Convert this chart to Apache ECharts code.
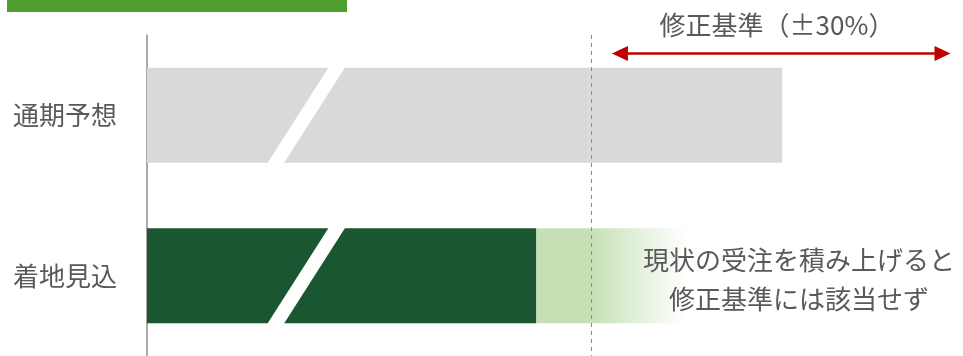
<!DOCTYPE html>
<html>
<head>
<meta charset="utf-8">
<script src="https://cdn.jsdelivr.net/npm/echarts@6/dist/echarts.min.js"></script>
<style>
  html, body { margin: 0; padding: 0; background: #ffffff; }
  #chart { width: 963px; height: 356px; }
</style>
</head>
<body>
<div id="chart"></div>
<script>
// Categories (top to bottom)
const categories = ['通期予想', '着地見込'];

// Full-year forecast (index = 100)
const forecastValues = [100, '-'];
// Expected landing: confirmed part and accumulated order backlog on top of it
const landingValues = ['-', 61.3];
const backlogValues = ['-', 28];

// Revision threshold (-30% of the forecast)
const thresholdValue = 70;
// Span of the "±30%" arrow
const rangeArrow = [73.2, 126.5];
// Axis-break band: centre at bar bottom, centre at bar top, band width
const breakBand = [20.2, 29.95, 2.6];

// Text
const rangeLabel = '修正基準（±30%）';
const noteLines = ['現状の受注を積み上げると', '修正基準には該当せず'];

const FONT = '"Noto Sans CJK JP", "Noto Sans", sans-serif';
const TEXT_COLOR = '#595959';
const BAR_WIDTH = 95;

const chart = echarts.init(document.getElementById('chart'), null, { renderer: 'canvas' });

const option = {
  animation: false,
  backgroundColor: '#ffffff',
  grid: { left: 147, right: 22, top: 35, height: 336, containLabel: false },
  xAxis: {
    type: 'value',
    min: 0,
    max: 125,
    show: false,
    splitLine: { show: false }
  },
  yAxis: {
    type: 'category',
    inverse: true,
    data: categories,
    axisLine: { show: true, lineStyle: { color: '#8c8c8c', width: 1.5 } },
    axisTick: { show: false },
    axisLabel: { fontSize: 26, color: TEXT_COLOR, fontFamily: FONT, margin: 30 }
  },
  graphic: [
    {
      type: 'rect',
      shape: { x: 7, y: 0, width: 340, height: 12 },
      style: { fill: '#4e9e2e' },
      z: 10
    },
    {
      type: 'text',
      x: 777, y: 25,
      style: {
        text: rangeLabel,
        fontSize: 26, fontFamily: FONT, fill: TEXT_COLOR,
        textAlign: 'center', textVerticalAlign: 'middle'
      },
      z: 10
    },
    {
      type: 'text',
      x: 799, y: 280,
      style: {
        text: noteLines.join('\n'),
        fontSize: 26, lineHeight: 39, fontFamily: FONT, fill: TEXT_COLOR,
        textAlign: 'center', textVerticalAlign: 'middle'
      },
      z: 10
    }
  ],
  series: [
    {
      name: '通期予想',
      type: 'bar',
      stack: 'total',
      barWidth: BAR_WIDTH,
      data: forecastValues,
      itemStyle: { color: '#d9d9d9' },
      markLine: {
        silent: true,
        symbol: 'none',
        label: { show: false },
        lineStyle: { color: '#8c8c8c', width: 1, type: [4, 4] },
        data: [{ xAxis: thresholdValue }],
        z: 5
      }
    },
    {
      name: '着地見込',
      type: 'bar',
      stack: 'total',
      barWidth: BAR_WIDTH,
      data: landingValues,
      itemStyle: { color: '#1b5632' }
    },
    {
      name: '受注積上げ',
      type: 'bar',
      stack: 'total',
      barWidth: BAR_WIDTH,
      data: backlogValues,
      itemStyle: {
        color: new echarts.graphic.LinearGradient(0, 0, 1, 0, [
          { offset: 0, color: '#c5e0b4' },
          { offset: 0.3, color: '#c5e0b4' },
          { offset: 0.85, color: 'rgba(255,255,255,0.9)' },
          { offset: 1, color: 'rgba(255,255,255,0)' }
        ])
      }
    },
    {
      // White slanted band marking the omitted part of the scale
      name: 'break',
      type: 'custom',
      silent: true,
      z: 4,
      data: categories.map((c, i) => [i]),
      encode: { y: 0 },
      renderItem: function (params, api) {
        const cat = api.value(0);
        const half = breakBand[2] / 2;
        const bl = api.coord([breakBand[0] - half, cat]);
        const br = api.coord([breakBand[0] + half, cat]);
        const tl = api.coord([breakBand[1] - half, cat]);
        const tr = api.coord([breakBand[1] + half, cat]);
        const yTop = bl[1] - BAR_WIDTH / 2 - 1;
        const yBot = bl[1] + BAR_WIDTH / 2 + 1;
        return {
          type: 'polygon',
          shape: { points: [[tl[0], yTop], [tr[0], yTop], [br[0], yBot], [bl[0], yBot]] },
          style: { fill: '#ffffff' }
        };
      }
    },
    {
      // Double-headed red arrow for the ±30% range
      name: 'range',
      type: 'custom',
      silent: true,
      z: 6,
      clip: false,
      data: [[rangeArrow[0], rangeArrow[1], 0]],
      encode: { x: [0, 1], y: 2 },
      renderItem: function (params, api) {
        const p1 = api.coord([api.value(0), api.value(2)]);
        const p2 = api.coord([api.value(1), api.value(2)]);
        const band = api.size([0, 1])[1];
        const y = p1[1] - band * 0.385;
        const headLen = 16, headHalf = 7.5;
        const color = '#c00000';
        return {
          type: 'group',
          children: [
            {
              type: 'line',
              shape: { x1: p1[0] + headLen - 2, y1: y, x2: p2[0] - headLen + 2, y2: y },
              style: { stroke: color, lineWidth: 2.5 }
            },
            {
              type: 'polygon',
              shape: { points: [[p1[0], y], [p1[0] + headLen, y - headHalf], [p1[0] + headLen, y + headHalf]] },
              style: { fill: color }
            },
            {
              type: 'polygon',
              shape: { points: [[p2[0], y], [p2[0] - headLen, y - headHalf], [p2[0] - headLen, y + headHalf]] },
              style: { fill: color }
            }
          ]
        };
      }
    }
  ]
};

chart.setOption(option);
</script>
</body>
</html>
